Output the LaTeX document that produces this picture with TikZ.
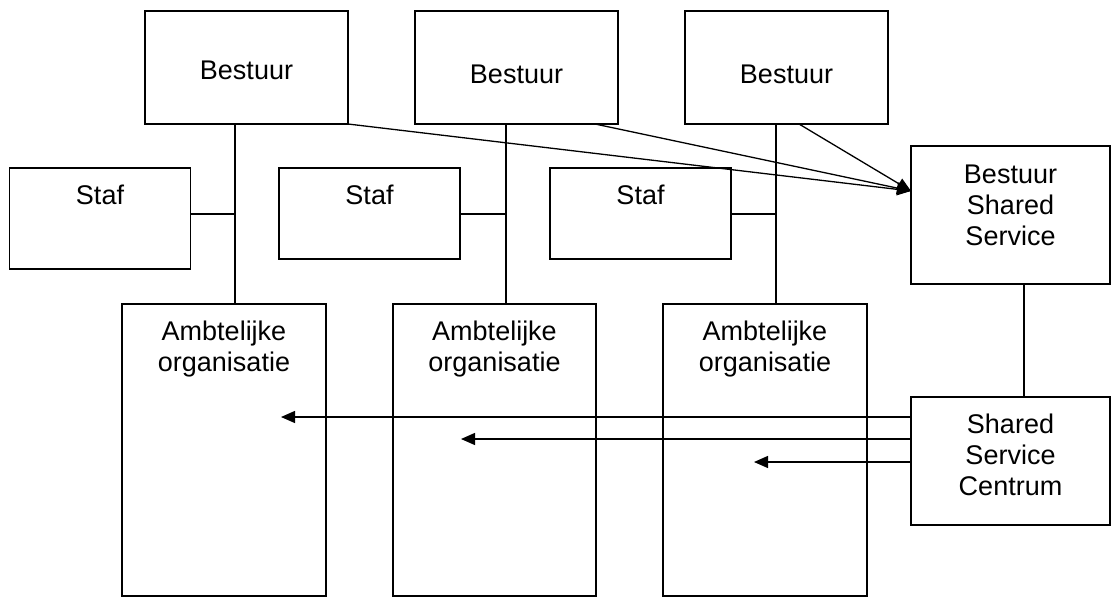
\documentclass[tikz,border=0pt]{standalone}
\usepackage{fontspec}
\setmainfont{Liberation Sans}
\usetikzlibrary{arrows.meta}
\begin{document}
\begin{tikzpicture}[x=1pt,y=-1pt,
  box/.style={draw=black, line width=1.3pt, inner sep=0pt, outer sep=0pt},
  lbl/.style={anchor=base, align=center, inner sep=0pt, font=\fontsize{27}{31}\selectfont},
  link/.style={line width=1.3pt},
  arr/.style={line width=1.3pt, -{Triangle[length=14pt,width=12pt]}}]
\useasboundingbox (0,0) rectangle (1111,597);

% boards
\node[box, minimum width=203pt, minimum height=113pt] (b1) at (246.5,67.5) {};
\node[box, minimum width=203pt, minimum height=113pt] (b2) at (516.5,67.5) {};
\node[box, minimum width=203pt, minimum height=113pt] (b3) at (786.5,67.5) {};
% staff units
\node[box, minimum width=181pt, minimum height=101pt] (s1) at (100,218.5) {};
\node[box, minimum width=181pt, minimum height=91pt] (s2) at (369.5,213.5) {};
\node[box, minimum width=181pt, minimum height=91pt] (s3) at (640.5,213.5) {};
% civil service organisations
\node[box, minimum width=204pt, minimum height=292pt] (a1) at (224,450) {};
\node[box, minimum width=203pt, minimum height=292pt] (a2) at (494.5,450) {};
\node[box, minimum width=204pt, minimum height=292pt] (a3) at (765,450) {};
% shared service
\node[box, minimum width=199pt, minimum height=138pt] (bss) at (1010.5,215) {};
\node[box, minimum width=199pt, minimum height=128pt] (ssc) at (1010.5,461) {};

% labels (base anchor sits on the last line)
\node[lbl] (tb1) at (246.5,79.5) {Bestuur};
\node[lbl] (tb2) at (516.5,83) {Bestuur};
\node[lbl] (tb3) at (786.5,83) {Bestuur};
\node[lbl] (ts1) at (100,204) {Staf};
\node[lbl] (ts2) at (369.5,204) {Staf};
\node[lbl] (ts3) at (640.5,204) {Staf};
\node[lbl] (ta1) at (224,371) {Ambtelijke\\organisatie};
\node[lbl] (ta2) at (494.5,371) {Ambtelijke\\organisatie};
\node[lbl] (ta3) at (765,371) {Ambtelijke\\organisatie};
\node[lbl] (tbss) at (1010.5,245) {Bestuur\\Shared\\Service};
\node[lbl] (tssc) at (1010.5,495) {Shared\\Service\\Centrum};

% hierarchy lines
\coordinate (j1) at (235,214);
\coordinate (j2) at (506,214);
\coordinate (j3) at (776,214);
\draw[link] (b1.south -| j1) -- (a1.north -| j1);
\draw[link] (b2.south -| j2) -- (a2.north -| j2);
\draw[link] (b3.south -| j3) -- (a3.north -| j3);
\draw[link] (s1.east |- j1) -- (j1);
\draw[link] (s2.east |- j2) -- (j2);
\draw[link] (s3.east |- j3) -- (j3);
\coordinate (jb) at (1024,300);
\draw[link] (bss.south -| jb) -- (ssc.north -| jb);

% boards to shared service board
\coordinate (tip) at (911,191);
\draw[arr] (b1.south east) -- (tip);
\draw[arr] (b2.south -| 595,0) -- (tip);
\draw[arr] (b3.south -| 799,0) -- (tip);

% shared service centre to organisations
\coordinate (t1) at (281,417);
\coordinate (t2) at (461,439);
\coordinate (t3) at (754,462);
\draw[arr] (ssc.west |- t1) -- (t1);
\draw[arr] (ssc.west |- t2) -- (t2);
\draw[arr] (ssc.west |- t3) -- (t3);
\end{tikzpicture}
\end{document}
